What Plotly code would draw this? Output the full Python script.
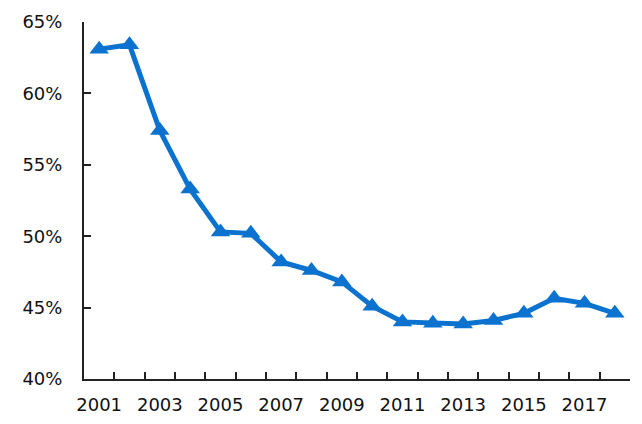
import plotly.graph_objects as go

years = list(range(2001, 2019))
values = [63.1, 63.4, 57.4, 53.3, 50.3, 50.2, 48.2, 47.6, 46.8, 45.1, 44.0, 43.9, 43.85, 44.1, 44.6, 45.65, 45.3, 44.6]
tick_years = [2001, 2003, 2005, 2007, 2009, 2011, 2013, 2015, 2017]
tick_labels = [str(y) for y in tick_years]
boundaries = [y - 0.5 for y in years] + [years[-1] + 0.5]
y_ticks = [40, 45, 50, 55, 60, 65]
y_labels = [f"{v}%" for v in y_ticks]

BLUE = "#0B72CF"
AX = "#222"

fig = go.Figure()
fig.add_trace(go.Scatter(
    x=years, y=values, mode="lines+markers",
    line=dict(color=BLUE, width=5),
    marker=dict(symbol="triangle-up", size=17, color=BLUE),
    hoverinfo="x+y",
))
# invisible helper trace so the label axis is drawn
fig.add_trace(go.Scatter(
    x=tick_years, y=[values[0]] * len(tick_years), xaxis="x2",
    mode="markers", marker=dict(opacity=0), hoverinfo="skip",
))

# page body has an 8px margin: shrink the figure so the plot lands where the reference's does
fig.update_layout(
    width=634, height=416,
    margin=dict(l=76, r=12, t=14, b=45),
    paper_bgcolor="white", plot_bgcolor="white",
    showlegend=False,
    font=dict(family="DejaVu Sans", size=18, color="#111"),
    xaxis=dict(
        range=[boundaries[0], boundaries[-1]],
        tickvals=boundaries, ticktext=[""] * len(boundaries),
        ticks="inside", ticklen=7, tickcolor=AX, tickwidth=2,
        showline=True, linecolor=AX, linewidth=2,
        showgrid=False, zeroline=False, automargin=False,
    ),
    xaxis2=dict(
        overlaying="x", anchor="y", side="bottom",
        range=[boundaries[0], boundaries[-1]],
        tickvals=tick_years, ticktext=tick_labels,
        ticks="", showline=False, showgrid=False, zeroline=False,
        automargin=False, ticklabelstandoff=13,
    ),
    yaxis=dict(
        range=[40, 65],
        tickvals=y_ticks, ticktext=y_labels,
        ticks="inside", ticklen=7, tickcolor=AX, tickwidth=2,
        showline=True, linecolor=AX, linewidth=2,
        showgrid=False, zeroline=False, automargin=False,
        ticklabelstandoff=16,
    ),
)
fig.write_html("out.html")
